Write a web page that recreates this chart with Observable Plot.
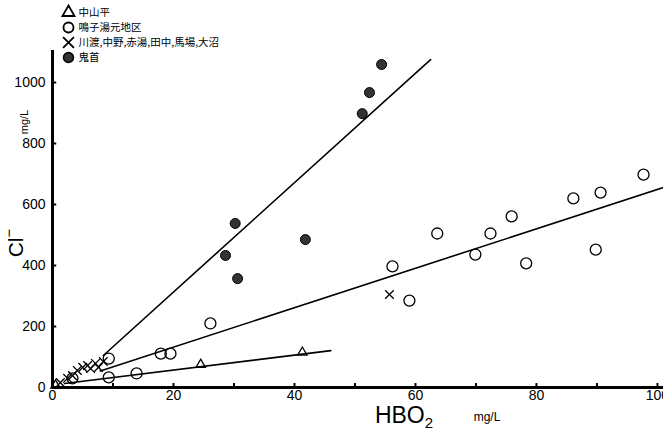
<!DOCTYPE html>
<html><head><meta charset="utf-8">
<script src="https://cdn.jsdelivr.net/npm/d3@7"></script>
<script src="https://cdn.jsdelivr.net/npm/@observablehq/plot@0.6"></script>
<style>body{margin:0;background:#fff} svg{display:block}</style>
</head><body><div id="chart"></div>
<script>
// Legend labels
const seriesNames = ["中山平", "鳴子湯元地区", "川渡,中野,赤湯,田中,馬場,大沼", "鬼首"];

// 中山平 (triangles)
const nakayamaX = [0.5, 24.5, 41.3];
const nakayamaY = [7, 75, 115];
// 鳴子湯元地区 (open circles)
const narukoX = [3.3, 9.3, 9.3, 13.9, 17.9, 19.5, 26.1, 56.2, 59.0, 63.6, 69.9, 72.4, 75.9, 78.3, 86.1, 89.8, 90.6, 97.7];
const narukoY = [30, 95, 33, 46, 111, 111, 210, 397, 285, 505, 436, 505, 561, 407, 620, 452, 639, 698];
// 川渡 etc. (x marks)
const kawatabiX = [1.3, 2.5, 3.3, 4.1, 5.0, 5.8, 6.3, 7.1, 7.6, 8.4, 55.7];
const kawatabiY = [16, 30, 39, 56, 66, 72, 62, 79, 66, 85, 305];
// 鬼首 (filled circles)
const onikobeX = [54.4, 52.4, 51.2, 30.2, 28.6, 30.6, 41.8];
const onikobeY = [1059, 967, 898, 538, 433, 357, 485];

// Fitted lines (end points)
const steepLineX = [8.4, 62.5];
const steepLineY = [105, 1075];
const midLineX = [7.9, 101];
const midLineY = [54, 656];
const lowLineX = [2, 46];
const lowLineY = [13, 121];

// Ticks
const xTickLabels = [0, 20, 40, 60, 80, 100];
const xMinorTicks = [10, 20, 30, 40, 50, 60, 70, 80, 90, 100];
const yTickLabels = [0, 200, 400, 600, 800, 1000];

const pts = (xs, ys) => xs.map((x, i) => ({x, y: ys[i]}));
const nakayama = pts(nakayamaX, nakayamaY);
const naruko = pts(narukoX, narukoY);
const kawatabi = pts(kawatabiX, kawatabiY);
const onikobe = pts(onikobeX, onikobeY);
const steepLine = pts(steepLineX, steepLineY);
const midLine = pts(midLineX, midLineY);
const lowLine = pts(lowLineX, lowLineY);

const cjk = "Noto Sans CJK JP";
const legendDy = [-38, -23, -8, 7];

const chart = Plot.plot({
  width: 663, height: 430,
  marginLeft: 52, marginRight: 0, marginTop: 50, marginBottom: 43,
  x: {domain: [0, 101]},
  y: {domain: [0, 1105]},
  style: {fontFamily: "Liberation Sans, Arial, sans-serif", fontSize: "14px", color: "black", background: "white"},
  marks: [
    // axis lines
    Plot.ruleY([0], {stroke: "black", strokeWidth: 3}),
    Plot.ruleX([0], {stroke: "black", strokeWidth: 3}),
    // inward ticks
    Plot.ruleX(xMinorTicks, {y1: 0, y2: 13, stroke: "black", strokeWidth: 2}),
    Plot.ruleY(yTickLabels, {x1: 0, x2: 0.7, stroke: "black", strokeWidth: 2}),
    Plot.axisX(xTickLabels, {tickSize: 0, tickPadding: 3, label: null, fontSize: 14, tickFormat: d => String(d)}),
    Plot.axisY(yTickLabels, {tickSize: 0, tickPadding: 7, label: null, fontSize: 14, tickFormat: d => String(d)}),
    // lines
    Plot.line(steepLine, {x: "x", y: "y", stroke: "black", strokeWidth: 1.6}),
    Plot.line(midLine, {x: "x", y: "y", stroke: "black", strokeWidth: 1.6}),
    Plot.line(lowLine, {x: "x", y: "y", stroke: "black", strokeWidth: 1.6}),
    // points
    Plot.dot(nakayama, {x: "x", y: "y", symbol: "triangle", r: 3.5, fill: "none", stroke: "black", strokeWidth: 1.3}),
    Plot.dot(naruko, {x: "x", y: "y", symbol: "circle", r: 5.5, fill: "none", stroke: "black", strokeWidth: 1.3}),
    Plot.dot(kawatabi, {x: "x", y: "y", symbol: "times", r: 4, stroke: "black", strokeWidth: 1.3}),
    Plot.dot(onikobe, {x: "x", y: "y", symbol: "circle", r: 5, fill: "#333", stroke: "black", strokeWidth: 1}),
    // legend
    Plot.dot([0], {frameAnchor: "top-left", dx: 16, dy: legendDy[0], symbol: "triangle", r: 4.5, fill: "none", stroke: "black", strokeWidth: 1.8}),
    Plot.dot([0], {frameAnchor: "top-left", dx: 16, dy: legendDy[1], symbol: "circle", r: 5, fill: "none", stroke: "black", strokeWidth: 1.8}),
    Plot.dot([0], {frameAnchor: "top-left", dx: 16, dy: legendDy[2], symbol: "times", r: 5, stroke: "black", strokeWidth: 1.8}),
    Plot.dot([0], {frameAnchor: "top-left", dx: 16, dy: legendDy[3], symbol: "circle", r: 5, fill: "#333", stroke: "black"}),
    ...seriesNames.map((name, i) => Plot.text([name], {frameAnchor: "top-left", dx: 26, dy: legendDy[i], text: d => d, textAnchor: "start", lineAnchor: "middle", fontFamily: cjk, fontSize: 10.5, fill: "black"}))
  ]
});

const svg = d3.select(chart);
// X axis title
const xt = svg.append("text").attr("x", 404).attr("y", 423)
  .attr("font-family", "Liberation Sans, Arial, sans-serif").attr("font-size", 23).attr("fill", "black");
xt.append("tspan").text("HBO");
xt.append("tspan").attr("font-size", 15).attr("dy", 5).text("2");
svg.append("text").attr("x", 487).attr("y", 421)
  .attr("font-family", "Liberation Sans, Arial, sans-serif").attr("font-size", 12).attr("fill", "black").text("mg/L");
// Y axis title
const yt = svg.append("text").attr("transform", "translate(23,243) rotate(-90)")
  .attr("font-family", "Liberation Sans, Arial, sans-serif").attr("font-size", 21).attr("fill", "black");
yt.append("tspan").text("Cl");
yt.append("tspan").attr("font-size", 15).attr("dy", -9).text("−");
svg.append("text").attr("transform", "translate(28,122) rotate(-90)")
  .attr("font-family", "Liberation Sans, Arial, sans-serif").attr("font-size", 11).attr("fill", "black").text("mg/L");

document.getElementById("chart").appendChild(chart);
</script>
</body></html>
